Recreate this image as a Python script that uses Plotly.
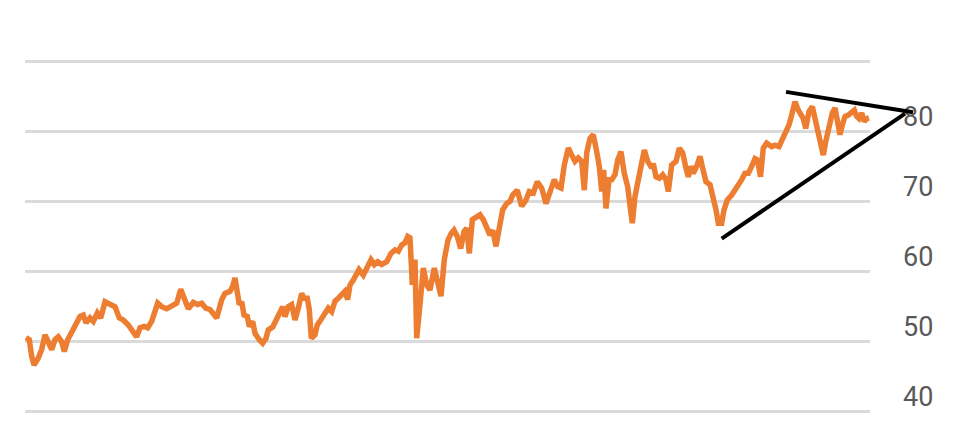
import plotly.graph_objects as go

# period index (horizontal position of each observation)
periods = [1.0, 4.3, 6.7, 9.0, 13.3, 16.7, 20.0, 23.3, 26.7, 30.0,
           33.3, 36.7, 39.3, 42.7, 46.7, 50.0, 55.0, 58.3, 61.0, 65.0,
           68.3, 72.3, 75.7, 80.0, 85.0, 90.0, 94.3, 98.3, 103.3, 107.3,
           111.7, 115.0, 119.3, 122.7, 126.7, 132.7, 136.7, 141.7, 146.7, 151.7,
           155.7, 159.3, 163.3, 168.3, 172.7, 176.7, 180.7, 185.0, 188.3, 191.7,
           196.7, 200.0, 205.0, 207.7, 210.0, 212.3, 214.3, 216.7, 219.0, 222.3,
           224.3, 227.7, 230.0, 234.3, 237.7, 241.0, 243.3, 247.7, 251.7, 254.3,
           257.7, 260.0, 263.3, 266.7, 270.0, 273.3, 276.7, 279.0, 282.3, 284.3,
           286.3, 290.0, 292.3, 295.7, 300.0, 303.3, 306.7, 310.0, 313.3, 316.7,
           320.0, 322.7, 325.0, 328.3, 331.7, 334.0, 338.3, 341.7, 346.0, 349.3,
           352.7, 356.7, 361.7, 366.0, 370.0, 373.3, 376.7, 380.0, 382.7, 385.0,
           387.3, 390.0, 391.7, 395.0, 398.3, 401.7, 405.0, 409.3, 412.7, 416.0,
           419.3, 423.0, 426.0, 429.0, 432.3, 435.7, 439.0, 441.7, 444.3, 447.3,
           451.7, 455.0, 458.3, 461.7, 465.0, 467.7, 471.0, 474.3, 477.7, 481.7,
           485.0, 487.7, 492.3, 496.7, 501.0, 504.3, 508.3, 512.3, 516.7, 521.0,
           525.0, 529.3, 532.7, 536.0, 539.3, 543.3, 546.7, 550.0, 553.3, 556.7,
           559.3, 561.7, 565.0, 568.3, 571.7, 574.3, 576.7, 578.7, 581.0, 584.0,
           586.7, 590.0, 592.7, 596.0, 599.3, 602.7, 606.0, 607.3, 610.0, 613.3,
           616.7, 619.3, 622.7, 626.7, 628.3, 631.0, 634.3, 637.7, 641.0, 643.3,
           646.7, 651.0, 654.3, 657.7, 661.0, 663.3, 665.7, 668.3, 671.7, 675.0,
           677.7, 681.0, 685.0, 688.3, 691.0, 693.3, 696.7, 699.0, 702.3, 706.7,
           710.0, 713.3, 716.7, 720.0, 723.3, 726.7, 730.0, 732.5, 735.5, 738.3,
           741.7, 746.7, 750.0, 754.0, 757.3, 760.7, 764.0, 766.7, 770.0, 773.3,
           776.0, 778.3, 780.7, 784.0, 787.3, 790.0, 793.3, 796.7, 798.3, 800.7,
           804.0, 807.3, 810.0, 812.7, 815.0, 817.3, 820.0, 823.3, 826.7, 829.3,
           831.7, 834.0, 836.7, 839.3, 841.7, 844.0]

values = [50.6, 50.3, 47.9, 46.7, 47.7, 48.9, 51.0, 49.9, 48.9, 50.3,
          50.7, 50.0, 48.6, 50.3, 51.5, 52.2, 53.6, 53.8, 52.7, 53.4,
          52.9, 54.1, 53.4, 55.7, 55.3, 55.0, 53.4, 53.1, 52.4, 51.5,
          50.7, 52.0, 52.2, 52.0, 52.9, 55.5, 55.0, 54.7, 55.1, 55.5,
          57.5, 56.2, 54.7, 55.6, 55.3, 55.5, 54.8, 54.6, 54.1, 53.4,
          56.0, 56.9, 57.2, 57.9, 59.1, 57.4, 55.3, 55.7, 53.8, 53.6,
          52.2, 52.9, 51.2, 50.3, 49.8, 50.5, 51.7, 52.1, 53.4, 54.3,
          55.0, 53.6, 55.0, 55.3, 53.1, 54.8, 56.9, 56.2, 56.2, 54.6,
          50.5, 51.0, 52.4, 53.1, 54.3, 54.8, 54.3, 55.8, 56.2, 56.7,
          57.2, 56.0, 58.1, 58.8, 59.5, 60.3, 59.5, 60.7, 61.7, 61.0,
          61.4, 61.0, 61.4, 62.6, 63.1, 62.9, 63.8, 64.1, 65.0, 64.8,
          58.1, 61.7, 50.5, 55.3, 60.5, 58.1, 57.4, 60.5, 58.4, 56.5,
          61.7, 64.5, 65.4, 65.9, 65.0, 63.3, 65.7, 66.2, 62.6, 67.4,
          67.8, 68.1, 67.4, 66.2, 65.2, 65.9, 63.6, 66.2, 68.8, 69.7,
          70.0, 70.9, 71.6, 69.3, 70.2, 71.4, 71.2, 72.8, 71.9, 69.7,
          71.6, 73.1, 72.1, 71.9, 75.2, 77.6, 76.6, 75.7, 76.2, 75.7,
          71.6, 76.9, 79.0, 79.5, 77.1, 75.0, 71.4, 74.5, 69.0, 73.1,
          73.1, 73.8, 75.9, 77.1, 74.0, 72.1, 68.3, 66.9, 70.7, 73.3,
          75.9, 77.3, 75.7, 74.8, 75.4, 73.5, 73.3, 73.8, 73.1, 71.4,
          75.2, 75.7, 77.6, 76.9, 74.7, 73.5, 75.0, 74.0, 75.0, 76.4,
          74.7, 72.8, 72.4, 70.7, 68.8, 66.9, 66.9, 68.8, 70.2, 70.9,
          71.6, 72.1, 73.1, 74.0, 74.0, 75.0, 76.1, 75.9, 73.5, 77.6,
          78.3, 77.8, 78.0, 77.8, 78.8, 79.5, 80.9, 82.3, 84.2, 83.0,
          82.1, 81.8, 80.4, 82.8, 83.5, 81.8, 80.2, 77.3, 76.6, 78.5,
          80.9, 82.6, 83.3, 81.4, 79.5, 80.9, 82.1, 82.3, 82.8, 83.0,
          82.1, 81.8, 82.6, 81.4, 81.8, 81.9]

# hand-drawn triangle (trend lines) in the same units
upper_x = [761.0, 888.0]
upper_y = [85.6, 82.7]
lower_x = [696.7, 880.0]
lower_y = [64.7, 82.5]

tick_vals = [40, 50, 60, 70, 80, 90]
tick_text = ["40", "50", "60", "70", "80", ""]

X_MAX = 845.0
X2_MAX = 898.0

fig = go.Figure()
fig.add_trace(go.Scatter(
    x=periods, y=values, mode="lines",
    line=dict(color="#ed7d31", width=5.5, shape="linear"),
    xaxis="x", yaxis="y", hoverinfo="skip", showlegend=False))
fig.add_trace(go.Scatter(
    x=upper_x, y=upper_y, mode="lines",
    line=dict(color="#000000", width=4),
    xaxis="x2", yaxis="y2", hoverinfo="skip", showlegend=False))
fig.add_trace(go.Scatter(
    x=lower_x, y=lower_y, mode="lines",
    line=dict(color="#000000", width=4),
    xaxis="x2", yaxis="y2", hoverinfo="skip", showlegend=False))

yr = [39.0, 91.0]
fig.update_layout(
    width=945, height=422,
    margin=dict(l=17, r=30, t=46, b=10.6),
    paper_bgcolor="white", plot_bgcolor="rgba(0,0,0,0)",
    xaxis=dict(domain=[0, X_MAX / X2_MAX], range=[0, X_MAX], visible=False,
               showgrid=False, zeroline=False),
    yaxis=dict(range=yr, side="right", tickvals=tick_vals, ticktext=tick_text,
               showgrid=True, gridcolor="#dadada", gridwidth=2.5,
               zeroline=False, showline=False, ticks="",
               ticklabelstandoff=32, ticklabelshift=-15,
               ticklabeloverflow="allow",
               tickfont=dict(family="Roboto", size=27, color="#595959")),
    xaxis2=dict(domain=[0, 1], range=[0, X2_MAX], anchor="y2", visible=False,
                showgrid=False, zeroline=False),
    yaxis2=dict(range=yr, anchor="x2", visible=False, showgrid=False,
                zeroline=False),
)

fig.write_html("out.html")
